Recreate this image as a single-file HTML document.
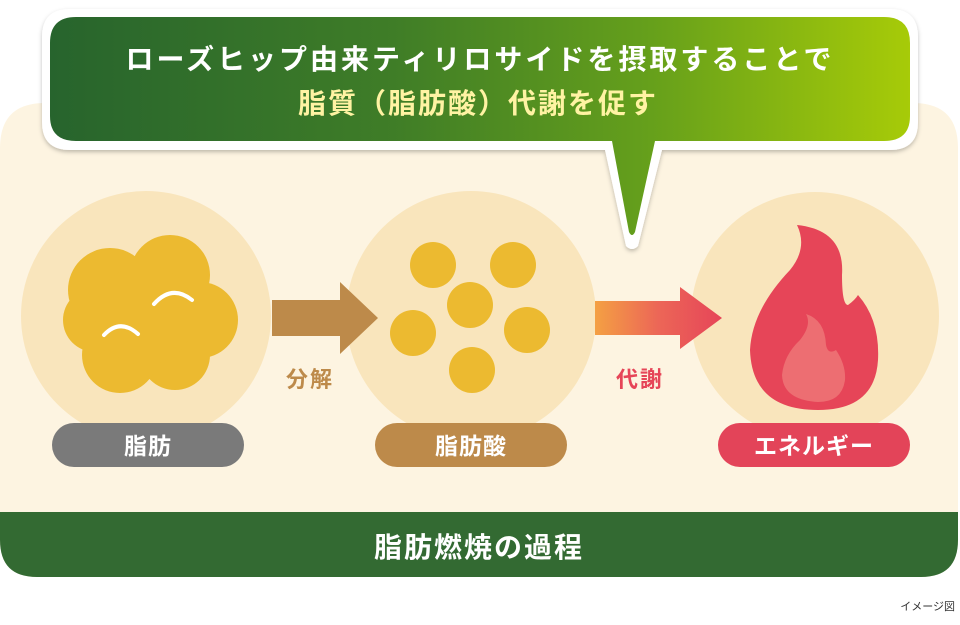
<!DOCTYPE html>
<html><head><meta charset="utf-8"><style>
body{margin:0;width:960px;height:625px;background:#fff;overflow:hidden;font-family:"Liberation Sans","Noto Sans CJK JP",sans-serif;}
</style></head><body>
<svg width="960" height="625" viewBox="0 0 960 625" xmlns="http://www.w3.org/2000/svg" style="display:block">
<defs>
<linearGradient id="g" x1="0" x2="1" y1="0" y2="0">
<stop offset="0" stop-color="#27642d"/><stop offset="0.4" stop-color="#3f7d27"/><stop offset="0.7" stop-color="#66a01b"/><stop offset="1" stop-color="#a7cb08"/></linearGradient>
<linearGradient id="r" x1="0" x2="1"><stop offset="0" stop-color="#f4a043"/><stop offset="0.5" stop-color="#ec6657"/><stop offset="1" stop-color="#e64558"/></linearGradient>
<filter id="sh"><feDropShadow dx="0" dy="2" stdDeviation="2" flood-opacity="0.25"/></filter>
</defs>
<path d="M45 103 H913 Q958 103 958 148 V540 Q958 577 921 577 H37 Q0 577 0 540 V148 Q0 103 45 103Z" fill="#fdf4e1"/>
<path d="M0 512 H958 V540 Q958 577 921 577 H37 Q0 577 0 540Z" fill="#336a32"/>
<text x="479" y="557" font-size="28" font-weight="bold" fill="#fff" text-anchor="middle" letter-spacing="2">脂肪燃焼の過程</text>
<circle cx="146" cy="316" r="125" fill="#f9e5bc"/>
<circle cx="471" cy="316" r="125" fill="#f9e5bc"/>
<circle cx="815" cy="316" r="124" fill="#f9e5bc"/>
<g fill="#ecba30">
<circle cx="110" cy="290" r="42"/><circle cx="170" cy="275" r="40"/><circle cx="200" cy="320" r="38"/>
<circle cx="175" cy="355" r="35"/><circle cx="120" cy="355" r="38"/><circle cx="95" cy="320" r="32"/><circle cx="145" cy="315" r="50"/>
</g>
<path d="M154 304 Q172 284 192 300" fill="none" stroke="#fff" stroke-width="4" stroke-linecap="round"/>
<path d="M104 335 Q120 318 138 334" fill="none" stroke="#fff" stroke-width="4" stroke-linecap="round"/>
<g fill="#ecba30">
<circle cx="433" cy="265" r="23"/><circle cx="513" cy="265" r="23"/><circle cx="470" cy="305" r="23"/>
<circle cx="413" cy="333" r="23"/><circle cx="527" cy="330" r="23"/><circle cx="472" cy="370" r="23"/>
</g>
<path d="M272 300 H340 V282 L378 318 L340 354 V336 H272Z" fill="#bd8a4a"/>
<text x="310" y="387" font-size="22" font-weight="bold" fill="#bd8a4a" text-anchor="middle" letter-spacing="2">分解</text>
<path d="M595 301 H680 V287 L722 318 L680 349 V335 H595Z" fill="url(#r)"/>
<text x="640" y="387" font-size="22" font-weight="bold" fill="#e64558" text-anchor="middle" letter-spacing="2">代謝</text>
<path d="M797 225 Q845 230 842 275 Q842 305 848 305 Q855 300 858 295 Q880 320 878 360 Q875 410 818 410 Q752 410 750 350 Q752 310 790 270 Q808 248 797 225Z" fill="#e64558"/>
<path d="M806 314 Q825 320 826 345 Q828 355 836 350 Q846 365 845 380 Q842 402 818 402 Q783 400 782 375 Q784 355 800 340 Q812 325 806 314Z" fill="#ed6e72"/>
<rect x="52" y="423" width="192" height="44" rx="22" fill="#7a7a7a"/>
<text x="148" y="454" font-size="23" font-weight="bold" fill="#fff" text-anchor="middle" letter-spacing="1">脂肪</text>
<rect x="375" y="423" width="192" height="44" rx="22" fill="#bd8a4a"/>
<text x="471" y="454" font-size="23" font-weight="bold" fill="#fff" text-anchor="middle" letter-spacing="1">脂肪酸</text>
<rect x="718" y="423" width="192" height="44" rx="22" fill="#e34459"/>
<text x="814" y="454" font-size="23" font-weight="bold" fill="#fff" text-anchor="middle" letter-spacing="1">エネルギー</text>
<path d="M70 9 H890 Q918 9 918 37 V122 Q918 150 890 150 H662 L638 246 Q632 252 626 246 L605 150 H70 Q42 150 42 122 V37 Q42 9 70 9Z" fill="#fff" filter="url(#sh)"/>
<path d="M76 17 H884 Q910 17 910 43 V116 Q910 141 884 141 H655 L635 232 Q632 238 629 232 L612 141 H76 Q50 141 50 116 V43 Q50 17 76 17Z" fill="url(#g)"/>
<text x="480" y="69" font-size="28" font-weight="bold" fill="#fff" text-anchor="middle" letter-spacing="3">ローズヒップ由来ティリロサイドを摂取することで</text>
<text x="478" y="113" font-size="28" font-weight="bold" fill="#fff3a3" text-anchor="middle" letter-spacing="2">脂質（脂肪酸）代謝を促す</text>
<text x="955" y="610" font-size="11" fill="#333" text-anchor="end">イメージ図</text>
</svg>
</body></html>
